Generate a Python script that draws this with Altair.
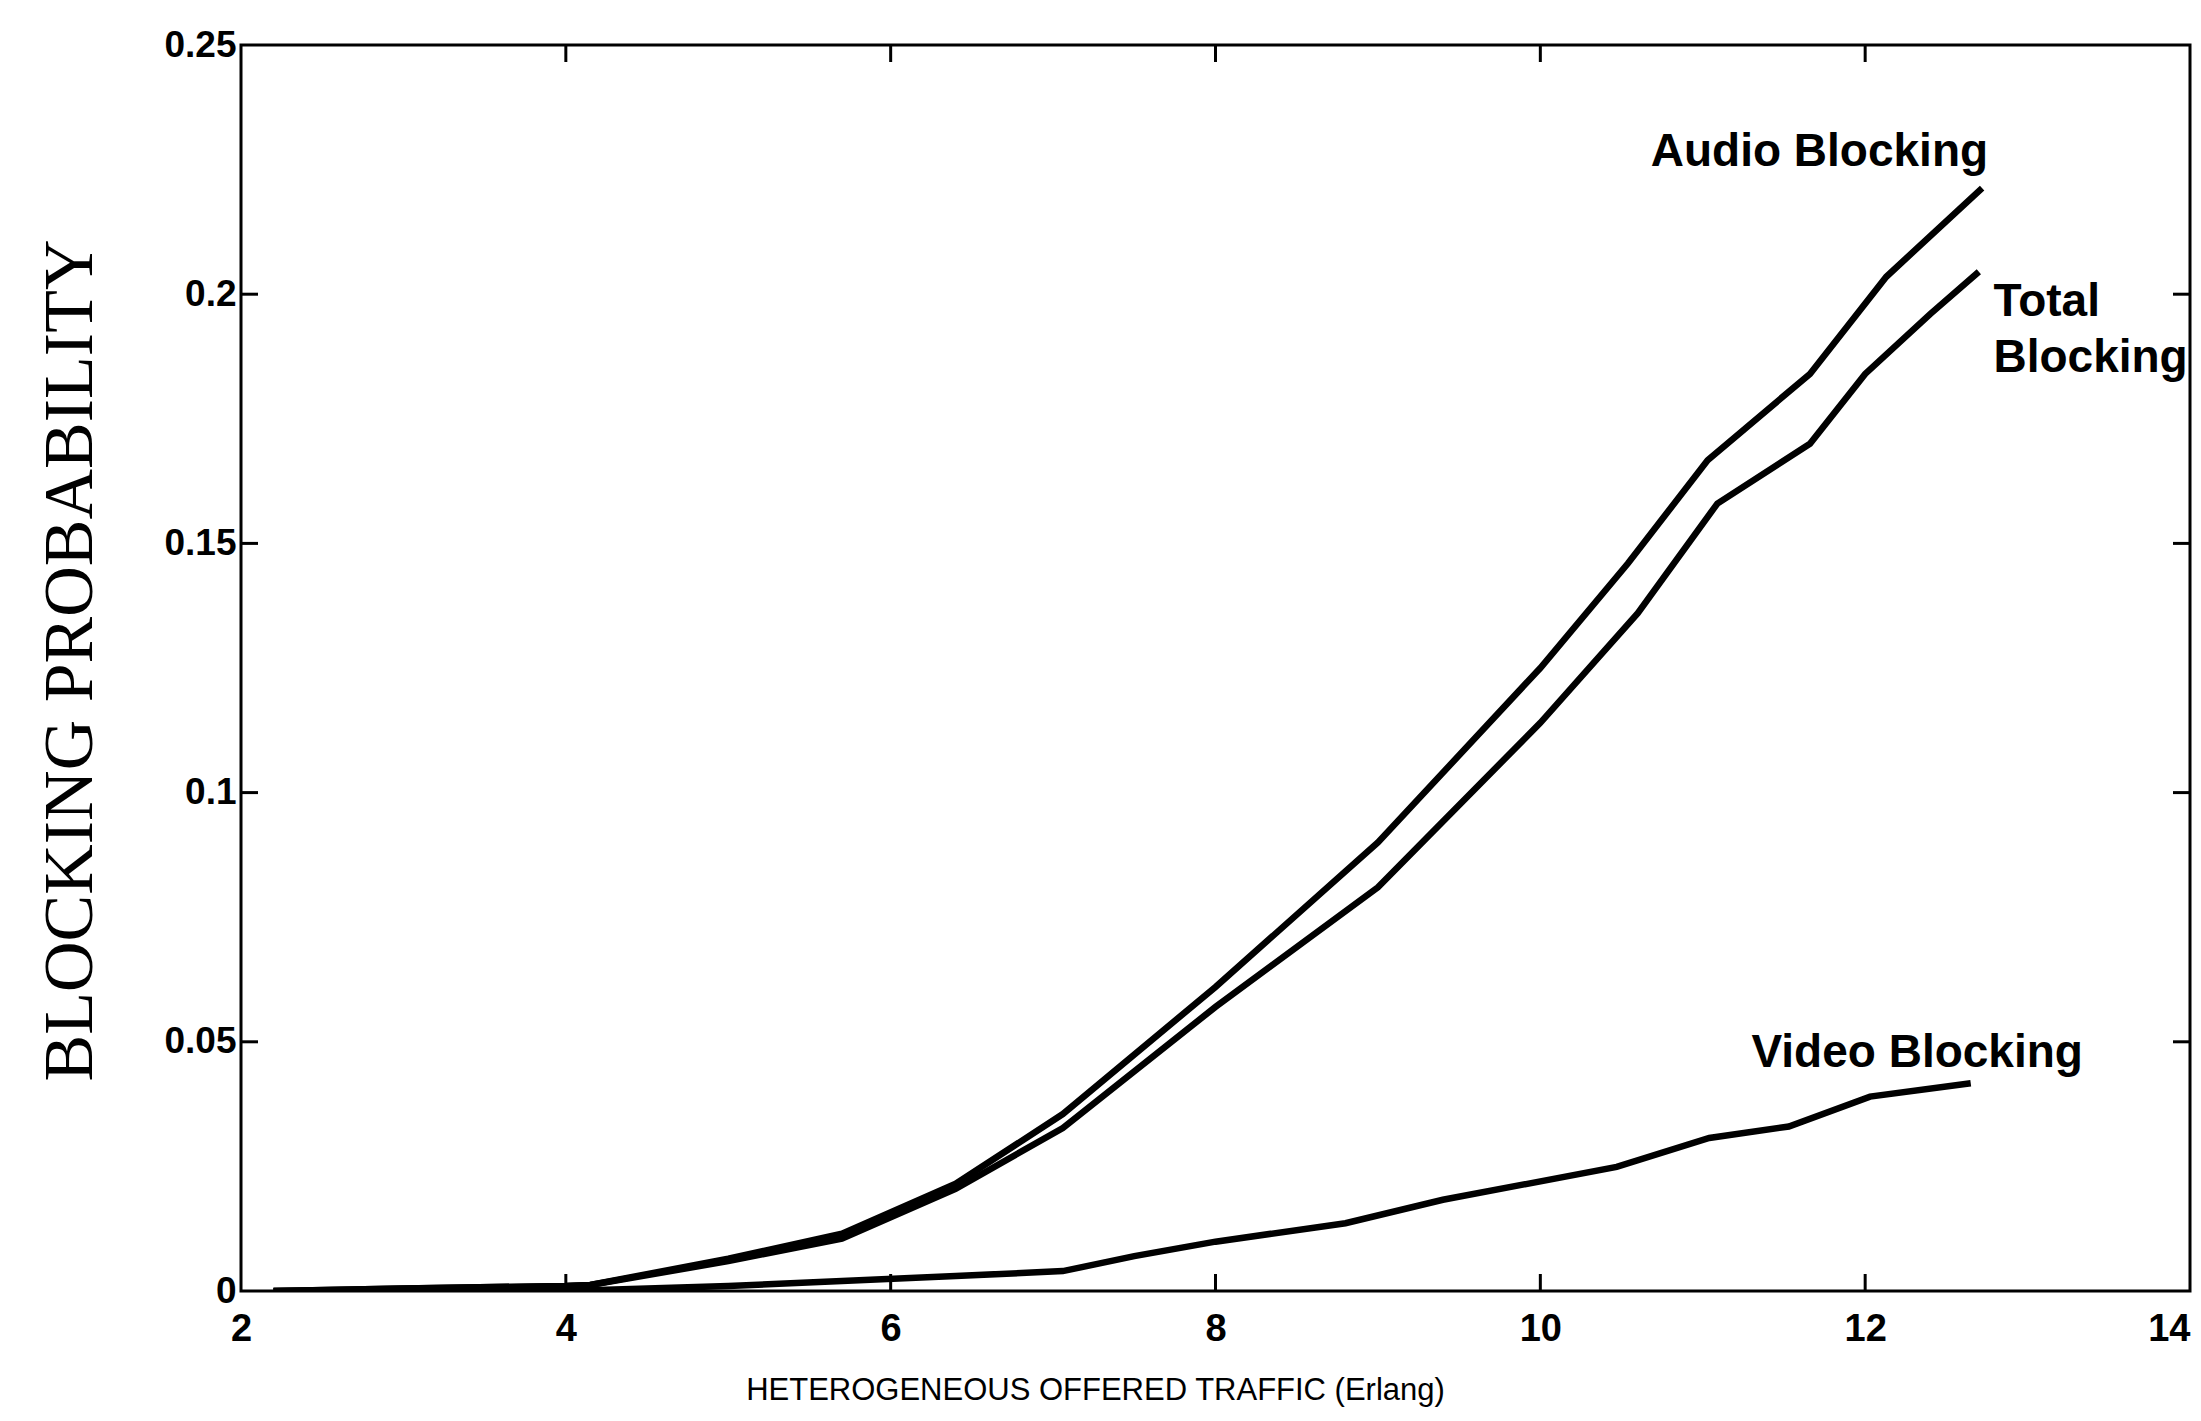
import altair as alt
import pandas as pd

# ---- data ----
audio_x = [2.2, 3.0, 4.0, 4.15, 5.0, 5.7, 6.4, 7.06, 8.0, 9.0, 10.0, 10.54, 11.03, 11.66, 12.13, 12.72]
audio_y = [0.0, 0.0005, 0.001, 0.0012, 0.0065, 0.0115, 0.0215, 0.0355, 0.061, 0.090, 0.125, 0.146, 0.1667, 0.184, 0.2035, 0.2213]

total_x = [2.2, 3.0, 4.0, 4.15, 5.0, 5.7, 6.4, 7.06, 8.0, 9.0, 10.0, 10.6, 11.09, 11.66, 12.0, 12.4, 12.70]
total_y = [0.0, 0.0005, 0.001, 0.0012, 0.006, 0.0105, 0.0205, 0.0327, 0.057, 0.081, 0.114, 0.136, 0.158, 0.17, 0.184, 0.196, 0.2045]

video_x = [2.2, 4.0, 5.0, 5.7, 6.4, 7.06, 7.5, 8.0, 8.8, 9.4, 10.47, 11.04, 11.53, 12.03, 12.65]
video_y = [0.0, 0.0, 0.001, 0.002, 0.003, 0.004, 0.007, 0.0099, 0.0136, 0.0183, 0.0249, 0.0307, 0.033, 0.039, 0.0417]

x_ticks = [2, 4, 6, 8, 10, 12, 14]
y_ticks = [0, 0.05, 0.1, 0.15, 0.2, 0.25]

label_text = ["Audio Blocking", "Total", "Blocking", "Video Blocking"]
label_x = [10.68, 12.79, 12.79, 11.30]
label_y = [0.2285, 0.1985, 0.1872, 0.0478]

x_title = "HETEROGENEOUS OFFERED TRAFFIC (Erlang)"
y_title = "BLOCKING PROBABILITY"

# ---- tables ----
rows = []
for name, xs, ys in [("Audio", audio_x, audio_y), ("Total", total_x, total_y), ("Video", video_x, video_y)]:
    for xv, yv in zip(xs, ys):
        rows.append({"series": name, "traffic": xv, "prob": yv})
df = pd.DataFrame(rows)

xt = pd.DataFrame({"traffic": x_ticks[1:-1]})
yt = pd.DataFrame({"prob": y_ticks[1:-1]})
ann = pd.DataFrame({"label": label_text, "traffic": label_x, "prob": label_y})

W, H = 1949, 1246
TICK = 17
xscale = alt.Scale(domain=[2, 14], nice=False, zero=False)
yscale = alt.Scale(domain=[0, 0.25], nice=False, zero=False)

x_axis = alt.Axis(values=x_ticks, format="d", title=x_title,
                  domain=False, ticks=False, grid=False,
                  labelFlush=False, labelOverlap=False,
                  labelAlign={"condition": {"test": "datum.value >= 14", "value": "right"},
                              "value": "center"},
                  labelFont="Liberation Sans", labelFontWeight="bold",
                  labelFontSize=38, labelPadding=19, labelColor="black",
                  titleFont="Liberation Sans", titleFontWeight="normal",
                  titleFontSize=31, titleColor="black",
                  titleX=854, titleY=99, titleAlign="center",
                  titleBaseline="middle")
y_axis = alt.Axis(values=y_ticks, format="~g", title=y_title,
                  domain=False, ticks=False, grid=False,
                  labelFlush=False, labelOverlap=False,
                  labelFont="Liberation Sans", labelFontWeight="bold",
                  labelFontSize=37, labelPadding=5, labelColor="black",
                  titleFont="Liberation Serif", titleFontWeight="normal",
                  titleFontSize=70, titleColor="black",
                  titleX=-171, titleY=615, titleAngle=270,
                  titleAlign="center", titleBaseline="middle")

X = alt.X("traffic:Q", scale=xscale, axis=x_axis)
Y = alt.Y("prob:Q", scale=yscale, axis=y_axis)

lines = alt.Chart(df).mark_line(color="black", strokeWidth=6.5, clip=True).encode(
    x=X, y=Y, detail="series:N")

tick_style = dict(color="black", strokeWidth=3)
bottom_ticks = alt.Chart(xt).mark_rule(**tick_style).encode(
    x=X, y=alt.value(H), y2=alt.value(H - TICK))
top_ticks = alt.Chart(xt).mark_rule(**tick_style).encode(
    x=X, y=alt.value(0), y2=alt.value(TICK))
left_ticks = alt.Chart(yt).mark_rule(**tick_style).encode(
    y=Y, x=alt.value(0), x2=alt.value(TICK))
right_ticks = alt.Chart(yt).mark_rule(**tick_style).encode(
    y=Y, x=alt.value(W), x2=alt.value(W - TICK))

labels = alt.Chart(ann).mark_text(
    align="left", baseline="middle", font="Liberation Sans", fontWeight="bold",
    fontSize=46, color="black").encode(x=X, y=Y, text="label:N")

chart = alt.layer(lines, bottom_ticks, top_ticks, left_ticks, right_ticks, labels).properties(
    width=W, height=H,
    padding={"left": 233, "top": 37, "right": 2, "bottom": 120},
    autosize="none",
    background="white",
).configure_view(stroke="black", strokeWidth=3)

chart.save("out.html", embed_options={"renderer": "svg", "actions": False})
